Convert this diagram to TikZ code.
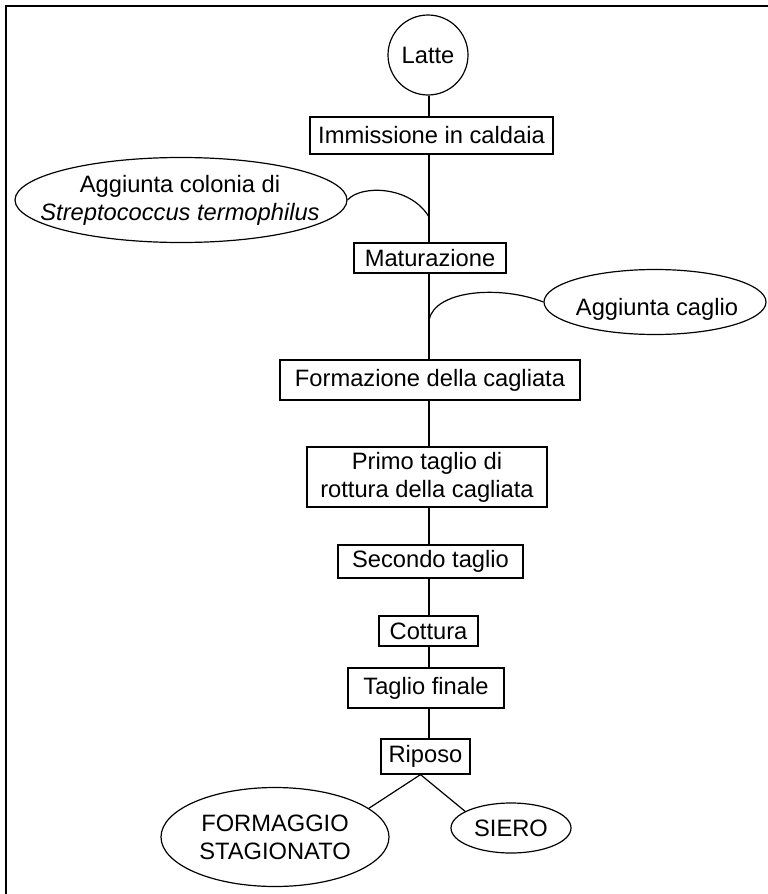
\documentclass[tikz,border=0pt]{standalone}
\usepackage{fontspec}
\setmainfont{Liberation Sans}
\usetikzlibrary{shapes.geometric,calc}
\begin{document}
\begin{tikzpicture}[x=1pt,y=-1pt,
  every node/.style={font=\fontsize{23.7}{28}\selectfont},
  stepbox/.style={draw, rectangle, line width=1.2pt, inner sep=0pt, align=center},
  oval/.style={draw, ellipse, line width=1.2pt, inner sep=0pt, align=center},
  txt/.style={align=center, inner sep=0pt},
  link/.style={line width=1.2pt},
  frameline/.style={line width=2pt}]
\useasboundingbox (0,0) rectangle (768,894);
\draw[frameline] (6,900) -- (6,6) -- (775,6);

\coordinate (spine) at (429,0);

\node[oval, minimum width=80, minimum height=80] (latte) at (428,55) {Latte};
\node[stepbox, minimum width=243, minimum height=37] (immissione) at (431.5,135.5) {Immissione in caldaia};
\node[oval, minimum width=332, minimum height=85] (colonia) at (181,200) {};
\node[txt] (colonialabel) at (180,200) {Aggiunta colonia di\\\itshape Streptococcus termophilus};
\node[stepbox, minimum width=152, minimum height=30] (maturazione) at (430,258) {Maturazione};
\node[oval, minimum width=222, minimum height=65] (caglio) at (655,302) {};
\node[txt] (cagliolabel) at (657,309) {Aggiunta caglio};
\node[stepbox, minimum width=300, minimum height=40] (formazione) at (430,380) {Formazione della cagliata};
\node[stepbox, minimum width=240, minimum height=60] (primo) at (427,477) {Primo taglio di\\rottura della cagliata};
\node[stepbox, minimum width=185, minimum height=33] (secondo) at (430.5,561.5) {Secondo taglio};
\node[stepbox, minimum width=99, minimum height=30] (cottura) at (428.5,631) {Cottura};
\node[stepbox, minimum width=156, minimum height=40] (taglio) at (426,688) {Taglio finale};
\node[stepbox, minimum width=89, minimum height=35] (riposo) at (425.5,756.5) {Riposo};
\node[oval, minimum width=228, minimum height=99] (formaggio) at (275,837) {FORMAGGIO\\STAGIONATO};
\node[oval, minimum width=120, minimum height=50] (siero) at (511,828) {SIERO};

\draw[link] (latte.south -| spine) -- (immissione.north -| spine);
\draw[link] (immissione.south -| spine) -- (maturazione.north -| spine);
\draw[link] (maturazione.south -| spine) -- (formazione.north -| spine);
\draw[link] (formazione.south -| spine) -- (primo.north -| spine);
\draw[link] (primo.south -| spine) -- (secondo.north -| spine);
\draw[link] (secondo.south -| spine) -- (cottura.north -| spine);
\draw[link] (cottura.south -| spine) -- (taglio.north -| spine);
\draw[link] (taglio.south -| spine) -- (riposo.north -| spine);

\coordinate (jc) at (429,217);
\draw[link] (colonia.east) .. controls (360,185) and (410,185) .. (jc);
\coordinate (jg) at (429,320);
\draw[link] (jg) .. controls (435,290) and (500,285) .. (caglio.west);

\coordinate (fork) at ([xshift=-5pt]riposo.south);
\draw[link] (fork) -- (formaggio.17);
\draw[link] (fork) -- (siero.160);
\end{tikzpicture}
\end{document}
